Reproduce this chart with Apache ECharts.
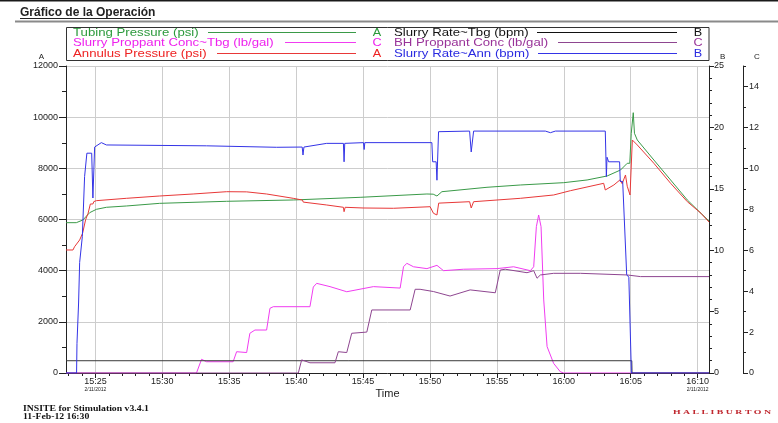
<!DOCTYPE html>
<html>
<head>
<meta charset="utf-8">
<script src="https://cdn.jsdelivr.net/npm/echarts@6/dist/echarts.min.js"></script>
<style>
html,body{margin:0;padding:0;background:#ffffff;}
#chart{width:778px;height:423px;}
</style>
</head>
<body>
<div id="chart"></div>
<script>
// ---------------- DATA (time = minutes after 15:00 on 2/11/2012) ----------------
const tubingTime = [22.8, 23.57, 24.06, 24.57, 25.07, 25.82, 27.31, 29.8, 34.8, 39.78, 44.78, 49.77, 50.24, 50.52, 50.89, 54.26, 56.75, 59.99, 61.74, 63.24, 64.24, 64.74, 64.93, 65.04, 65.19, 65.28, 65.49, 66.73, 67.98, 69.23, 70.25, 70.85];
const tubingPressure = [5876, 5876, 5981, 6267, 6398, 6477, 6528, 6632, 6711, 6763, 6867, 6997, 6990, 6919, 7087, 7259, 7349, 7439, 7545, 7701, 7935, 8197, 8197, 9370, 10175, 9370, 9108, 8326, 7545, 6763, 6243, 5940];

const slurryConcTime = [22.8, 32.55, 32.93, 33.3, 35.29, 35.55, 36.3, 36.54, 36.92, 37.79, 38.04, 38.29, 41.03, 41.28, 41.53, 42.53, 43.78, 45.77, 47.77, 48.02, 48.27, 48.77, 49.77, 50.52, 51.01, 52.51, 55.01, 56.25, 57.5, 57.75, 57.95, 58.12, 58.3, 58.5, 58.75, 59.24, 59.74, 59.99, 70.85];
const slurryPropConcTbg = [0, 0, 0.67, 0.55, 0.55, 1.04, 1.0, 1.94, 2.1, 2.1, 3.16, 3.24, 3.24, 4.2, 4.38, 4.22, 3.97, 4.22, 4.15, 5.19, 5.36, 5.19, 5.1, 5.26, 5.0, 5.07, 5.1, 5.19, 5.0, 5.19, 7.15, 7.72, 7.15, 3.57, 1.29, 0.47, 0.06, 0, 0];

const annulusTime = [22.8, 23.32, 23.44, 23.57, 23.82, 24.04, 24.27, 24.45, 24.62, 24.81, 24.88, 25.07, 27.31, 29.8, 32.3, 34.8, 36.3, 37.79, 39.78, 40.47, 40.53, 40.62, 42.28, 43.53, 43.58, 43.66, 45.0, 47.27, 50.01, 50.26, 50.52, 50.65, 50.72, 52.96, 53.08, 53.26, 56.75, 59.24, 60.49, 62.98, 63.1, 63.74, 64.19, 64.36, 64.61, 64.74, 64.95, 65.02, 65.12, 65.2, 65.49, 66.73, 67.98, 69.23, 70.25, 70.85];
const annulusPressure = [4808, 4808, 4937, 4870, 5200, 5461, 6000, 6243, 6606, 6606, 6700, 6736, 6828, 6919, 6997, 7087, 7080, 6997, 6828, 6760, 6680, 6740, 6567, 6477, 6305, 6477, 6450, 6438, 6500, 6243, 6176, 6640, 6696, 6696, 6450, 6696, 6828, 6958, 7126, 7415, 7154, 7349, 7545, 7400, 7740, 7300, 6958, 7000, 9108, 9150, 8913, 8197, 7415, 6696, 6243, 5900];

const rateTbgTime = [22.8, 65.08, 65.1, 70.85];
const slurryRateTbg = [1.0, 1.0, 0, 0];

const bhConcTime = [22.8, 40.16, 40.41, 40.53, 41.03, 42.9, 43.15, 43.78, 44.15, 45.28, 45.65, 48.52, 48.89, 49.26, 50.26, 51.5, 53.0, 54.88, 55.25, 55.62, 57.25, 57.75, 58.0, 58.25, 59.24, 61.24, 64.74, 65.73, 70.85];
const bhPropConc = [0, 0, 0.64, 0.62, 0.5, 0.5, 1.04, 1.0, 1.94, 2.0, 3.08, 3.08, 4.09, 4.09, 3.98, 3.76, 4.06, 3.92, 5.03, 5.07, 4.9, 5.0, 4.63, 4.79, 4.87, 4.87, 4.79, 4.71, 4.71];

const rateAnnTime = [22.8, 23.59, 23.62, 23.74, 23.82, 24.02, 24.19, 24.36, 24.72, 24.81, 24.94, 25.44, 25.82, 33.3, 38.54, 40.45, 40.51, 40.58, 42.28, 43.53, 43.58, 43.63, 45.03, 45.08, 45.13, 50.14, 50.2, 50.46, 50.52, 50.64, 52.96, 53.08, 53.26, 58.62, 59.0, 59.37, 63.1, 63.18, 63.23, 63.35, 64.17, 64.22, 64.4, 64.7, 64.86, 65.05, 70.85];
const slurryRateAnn = [0, 0, 2.4, 5.7, 9.0, 11.1, 16.0, 17.9, 17.9, 14.25, 18.4, 18.76, 18.57, 18.5, 18.38, 18.4, 17.75, 18.4, 18.7, 18.7, 17.2, 18.7, 18.76, 18.2, 18.76, 18.76, 17.2, 17.2, 15.7, 19.65, 19.7, 18.0, 19.7, 19.7, 19.57, 19.7, 19.7, 16.0, 17.57, 17.2, 17.2, 15.6, 15.6, 8.0, 7.8, 0, 0];

// tick labels
const timeTickValues = [25, 30, 35, 40, 45, 50, 55, 60, 65, 70];
const timeTickLabels = ['15:25', '15:30', '15:35', '15:40', '15:45', '15:50', '15:55', '16:00', '16:05', '16:10'];
const dateLabel = '2/11/2012';
const minuteTicks = [23,24,26,27,28,29,31,32,33,34,36,37,38,39,41,42,43,44,46,47,48,49,51,52,53,54,56,57,58,59,61,62,63,64,66,67,68,69];
const axisCTicks = [0, 2, 4, 6, 8, 10, 12, 14];
const axisCMinor = [1, 3, 5, 7, 9, 11, 13, 15];

// ---------------- CHART ----------------
const X_MIN = 22.8, X_MAX = 70.85;
const SANS = '"Liberation Sans", Arial, sans-serif';
const SERIF = '"Liberation Serif", "Times New Roman", serif';
const AX = '#222222';

const C_GREEN = '#3a9a48', C_MAG = '#f03cf0', C_RED = '#e83838', C_BLACK = '#3a3a3a', C_PURPLE = '#8e4690', C_BLUE = '#3434e6';

function zip(t, v) { return t.map((x, i) => [x, v[i]]); }
function lineSeries(name, t, v, color, yIdx) {
  return {
    name: name, type: 'line', xAxisIndex: 0, yAxisIndex: yIdx,
    data: zip(t, v), symbol: 'none', showSymbol: false, smooth: false,
    lineStyle: { color: color, width: 1 }, itemStyle: { color: color },
    emphasis: { disabled: true }, animation: false
  };
}
const plainNum = function (v) { return String(v); };

const legendItems = [
  { text: 'Tubing Pressure (psi)', color: '#2c9a3c', line: C_GREEN, letter: 'A', col: 0, row: 0, lineStart: 208 },
  { text: 'Slurry Proppant Conc~Tbg (lb/gal)', color: '#ee22ee', line: C_MAG, letter: 'C', col: 0, row: 1, lineStart: 285 },
  { text: 'Annulus Pressure (psi)', color: '#ee2222', line: C_RED, letter: 'A', col: 0, row: 2, lineStart: 217 },
  { text: 'Slurry Rate~Tbg (bpm)', color: '#111111', line: '#111111', letter: 'B', col: 1, row: 0, lineStart: 537 },
  { text: 'BH Proppant Conc (lb/gal)', color: '#993399', line: C_PURPLE, letter: 'C', col: 1, row: 1, lineStart: 558 },
  { text: 'Slurry Rate~Ann (bpm)', color: '#2a2ae0', line: C_BLUE, letter: 'B', col: 1, row: 2, lineStart: 538 }
];
const rowY = [33, 43, 54];
const rowLineY = [32.5, 42.5, 53.5];
const colTextX = [73, 394];
const colLineEnd = [356, 677];
const colLetterX = [377, 698];

const graphics = [
  { type: 'rect', shape: { x: 0, y: 0, width: 778, height: 1.5 }, style: { fill: '#1a1a1a' }, silent: true },
  { type: 'line', shape: { x1: 15, y1: 21.5, x2: 778, y2: 21.5 }, style: { stroke: '#8a8a8a', lineWidth: 2 }, silent: true },
  { type: 'text', x: 20, y: 12.5, style: { text: 'Gráfico de la Operación', font: 'bold 12px ' + SANS, fill: '#222', align: 'left', verticalAlign: 'middle' }, silent: true },
  { type: 'line', shape: { x1: 20, y1: 18.5, x2: 151, y2: 18.5 }, style: { stroke: '#222', lineWidth: 1 }, silent: true },
  { type: 'rect', shape: { x: 66.5, y: 27.5, width: 642.5, height: 33 }, style: { fill: 'rgba(0,0,0,0)', stroke: '#333', lineWidth: 1 }, silent: true },
  { type: 'text', x: 23, y: 409.5, scaleX: 1.3, style: { text: 'INSITE for Stimulation v3.4.1', font: 'bold 7.5px ' + SERIF, fill: '#111', align: 'left', verticalAlign: 'middle' }, silent: true },
  { type: 'text', x: 23, y: 417, scaleX: 1.3, style: { text: '11-Feb-12 16:30', font: 'bold 7.5px ' + SERIF, fill: '#111', align: 'left', verticalAlign: 'middle' }, silent: true },
  { type: 'text', x: 673, y: 412.5, scaleX: 1.4, style: { text: 'H A L L I B U R T O N', font: 'bold 7px ' + SERIF, fill: '#c0282f', align: 'left', verticalAlign: 'middle' }, silent: true }
];
legendItems.forEach(function (it) {
  const y = rowY[it.row];
  graphics.push({ type: 'text', x: colTextX[it.col], y: y, scaleX: 1.2, style: { text: it.text, font: '11px ' + SANS, fill: it.color, align: 'left', verticalAlign: 'middle' }, silent: true });
  graphics.push({ type: 'line', shape: { x1: it.lineStart, y1: rowLineY[it.row], x2: colLineEnd[it.col], y2: rowLineY[it.row] }, style: { stroke: it.line, lineWidth: 1 }, silent: true });
  graphics.push({ type: 'text', x: colLetterX[it.col], y: y, scaleX: 1.15, style: { text: it.letter, font: '11px ' + SANS, fill: it.color, align: 'center', verticalAlign: 'middle' }, silent: true });
});

const labelMap = {};
timeTickValues.forEach((v, i) => { labelMap[v] = timeTickLabels[i]; });

const option = {
  animation: false,
  backgroundColor: '#ffffff',
  grid: { left: 66, right: 69, top: 66, bottom: 50, containLabel: false },
  xAxis: [
    {
      type: 'value', position: 'bottom', min: X_MIN, max: X_MAX,
      name: 'Time', nameLocation: 'middle', nameGap: 15, nameMoveOverlap: false,
      nameTextStyle: { fontSize: 11, color: AX, fontFamily: SANS, verticalAlign: 'top' },
      axisLine: { show: true, onZero: false, lineStyle: { color: AX, width: 1 } },
      axisTick: { show: true, length: 5, customValues: timeTickValues, lineStyle: { color: AX } },
      axisLabel: {
        customValues: timeTickValues, margin: 4, color: AX, fontFamily: SANS,
        formatter: function (v) {
          const lab = labelMap[Math.round(v)] || '';
          if (Math.round(v) === 25 || Math.round(v) === 70) return '{t|' + lab + '}\n{d|' + dateLabel + '}';
          return '{t|' + lab + '}';
        },
        rich: {
          t: { fontSize: 9, color: AX, fontFamily: SANS, lineHeight: 10 },
          d: { fontSize: 5, color: AX, fontFamily: SANS, lineHeight: 6 }
        }
      },
      splitLine: { show: true, lineStyle: { color: '#cdcdcd', width: 1 } }
    },
    {
      type: 'value', position: 'bottom', min: X_MIN, max: X_MAX,
      axisLine: { show: false, onZero: false },
      axisTick: { show: true, length: 3, customValues: minuteTicks, lineStyle: { color: AX } },
      axisLabel: { show: false },
      splitLine: { show: false }
    }
  ],
  yAxis: [
    {
      type: 'value', position: 'left', min: 0, max: 12000, interval: 2000,
      name: 'A', nameLocation: 'end', nameGap: 5,
      nameTextStyle: { fontSize: 8, color: AX, fontFamily: SANS, align: 'right', padding: [0, 22, 0, 0] },
      axisLine: { show: true, onZero: false, lineStyle: { color: AX, width: 1 } },
      axisTick: { show: true, length: 7, lineStyle: { color: AX } },
      minorTick: { show: true, splitNumber: 2, length: 4, lineStyle: { color: AX } },
      axisLabel: { fontSize: 9, color: AX, fontFamily: SANS, margin: 8, formatter: plainNum },
      splitLine: { show: true, lineStyle: { color: '#cdcdcd', width: 1 } },
      minorSplitLine: { show: false }
    },
    {
      type: 'value', position: 'right', offset: 0, min: 0, max: 25, interval: 5,
      name: 'B', nameLocation: 'end', nameGap: 5,
      nameTextStyle: { fontSize: 8, color: AX, fontFamily: SANS, align: 'left', padding: [0, 0, 0, 11] },
      axisLine: { show: true, onZero: false, lineStyle: { color: AX, width: 1 } },
      axisTick: { show: true, length: 5, lineStyle: { color: AX } },
      minorTick: { show: true, splitNumber: 5, length: 3, lineStyle: { color: AX } },
      axisLabel: { fontSize: 9, color: AX, fontFamily: SANS, margin: 5, formatter: plainNum },
      splitLine: { show: false }
    },
    {
      type: 'value', position: 'right', offset: 34, min: 0, max: 15,
      name: 'C', nameLocation: 'end', nameGap: 5,
      nameTextStyle: { fontSize: 8, color: AX, fontFamily: SANS, align: 'left', padding: [0, 0, 0, 11] },
      axisLine: { show: true, onZero: false, lineStyle: { color: AX, width: 1 } },
      axisTick: { show: true, length: 5, customValues: axisCTicks, lineStyle: { color: AX } },
      axisLabel: { customValues: axisCTicks, fontSize: 9, color: AX, fontFamily: SANS, margin: 6, formatter: plainNum },
      splitLine: { show: false }
    },
    {
      type: 'value', position: 'right', offset: 34, min: 0, max: 15,
      axisLine: { show: false, onZero: false },
      axisTick: { show: true, length: 3, customValues: axisCMinor, lineStyle: { color: AX } },
      axisLabel: { show: false },
      splitLine: { show: false }
    }
  ],
  series: [
    lineSeries('Tubing Pressure (psi)', tubingTime, tubingPressure, C_GREEN, 0),
    lineSeries('Slurry Proppant Conc~Tbg (lb/gal)', slurryConcTime, slurryPropConcTbg, C_MAG, 2),
    lineSeries('Annulus Pressure (psi)', annulusTime, annulusPressure, C_RED, 0),
    lineSeries('Slurry Rate~Tbg (bpm)', rateTbgTime, slurryRateTbg, C_BLACK, 1),
    lineSeries('BH Proppant Conc (lb/gal)', bhConcTime, bhPropConc, C_PURPLE, 2),
    lineSeries('Slurry Rate~Ann (bpm)', rateAnnTime, slurryRateAnn, C_BLUE, 1)
  ],
  graphic: graphics
};

const chart = echarts.init(document.getElementById('chart'), null, { renderer: 'canvas', width: 778, height: 423 });
chart.setOption(option);
</script>
</body>
</html>
